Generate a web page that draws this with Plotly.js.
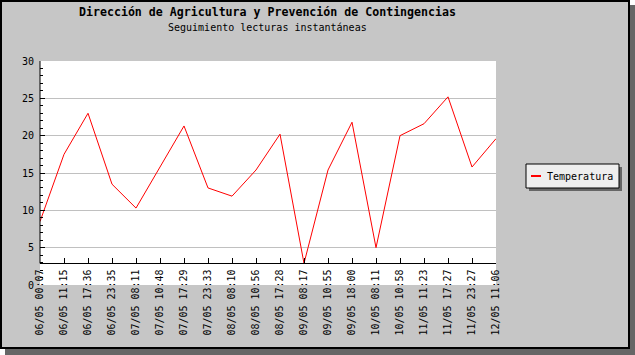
<!DOCTYPE html>
<html>
<head>
<meta charset="utf-8">
<script src="https://cdn.plot.ly/plotly-3.0.1.min.js"></script>
<style>
html,body{margin:0;padding:0;background:#ffffff;}
#chart{width:635px;height:355px;}
</style>
</head>
<body>
<div id="chart"></div>
<script>
const categories = [
  "06/05 00:07","06/05 11:15","06/05 17:36","06/05 23:35",
  "07/05 08:11","07/05 10:48","07/05 17:29","07/05 23:33",
  "08/05 08:10","08/05 10:56","08/05 17:28","09/05 08:17",
  "09/05 10:55","09/05 18:00","10/05 08:11","10/05 10:58",
  "11/05 11:23","11/05 17:27","11/05 23:27","12/05 11:06"
];
const temperatura = [8.5, 17.5, 23.0, 13.5, 10.3, 15.8, 21.3, 13.0, 11.9, 15.4,
                     20.2, 2.9, 15.4, 21.8, 5.0, 20.0, 21.6, 25.2, 15.8, 19.6];
const seriesName = "Temperatura";
const titleText = "Dirección de Agricultura y Prevención de Contingencias";
const subtitleText = "Seguimiento lecturas instantáneas";
const yTicks = [0, 5, 10, 15, 20, 25, 30];

const W = 635, H = 355;
const M = {l: 40, r: 139, t: 61, b: 70, autoexpand: false};
const PW = W - M.l - M.r, PH = H - M.t - M.b;
const px = x => (x - M.l) / PW;
const py = y => (H - M.b - y) / PH;

const yMax = 30;
const yMin = 0;
const minVal = Math.min(...temperatura);
const FONT = "DejaVu Sans Mono";

// legend box (pixel layout)
const LG = {x0: 526, x1: 619, y0: 164, y1: 188};

const shapes = [
  // y axis line from the x axis up to top
  {type:'line', xref:'paper', yref:'y', x0:0, x1:0, y0:minVal, y1:yMax,
   line:{color:'#000', width:1}, layer:'above'},
  // frame border
  {type:'rect', xref:'paper', yref:'paper', x0:px(1), x1:px(629), y0:py(1), y1:py(348),
   line:{color:'#000', width:2}, fillcolor:'rgba(0,0,0,0)', layer:'above'},
  // shadows
  {type:'rect', xref:'paper', yref:'paper', x0:px(630), x1:px(636), y0:py(5), y1:py(356),
   line:{width:0}, fillcolor:'#666666', layer:'above'},
  {type:'rect', xref:'paper', yref:'paper', x0:px(5), x1:px(636), y0:py(349), y1:py(356),
   line:{width:0}, fillcolor:'#666666', layer:'above'},
  // white corners
  {type:'rect', xref:'paper', yref:'paper', x0:px(630), x1:px(636), y0:py(-1), y1:py(5),
   line:{width:0}, fillcolor:'#ffffff', layer:'above'},
  {type:'rect', xref:'paper', yref:'paper', x0:px(-1), x1:px(5), y0:py(349), y1:py(356),
   line:{width:0}, fillcolor:'#ffffff', layer:'above'},
  // legend shadow
  {type:'rect', xref:'paper', yref:'paper', x0:px(LG.x0+3), x1:px(LG.x1+3), y0:py(LG.y1+3), y1:py(LG.y0+3),
   line:{width:0}, fillcolor:'#666666', layer:'above'},
  // legend box
  {type:'rect', xref:'paper', yref:'paper', x0:px(LG.x0), x1:px(LG.x1), y0:py(LG.y1), y1:py(LG.y0),
   line:{color:'#000', width:1}, fillcolor:'#eeeeee', layer:'above'},
  // legend line sample
  {type:'line', xref:'paper', yref:'paper', x0:px(LG.x0+5), x1:px(LG.x0+15), y0:py(176), y1:py(176),
   line:{color:'#ff0000', width:2}, layer:'above'}
];

const trace = {
  x: categories,
  y: temperatura,
  type: 'scatter',
  mode: 'lines',
  name: seriesName,
  line: {color: '#ff0000', width: 1},
  showlegend: false
};

const layout = {
  width: W, height: H,
  margin: M,
  paper_bgcolor: '#c6c6c6',
  plot_bgcolor: '#ffffff',
  font: {family: FONT, size: 10, color: '#000'},
  title: {
    text: titleText,
    font: {family: FONT, size: 11.6, weight: 'bold', color: '#000'},
    x: px(267.5), xref: 'paper', xanchor: 'center',
    y: 1 - 8/H, yref: 'container', yanchor: 'top'
  },
  annotations: [
    {text: subtitleText, xref:'paper', yref:'paper', x: px(267.5), y: py(28),
     xanchor:'center', yanchor:'middle', showarrow:false,
     font:{family: FONT, size: 10, color:'#000'}},
    {text: seriesName, xref:'paper', yref:'paper', x: px(LG.x0+19), y: py(176),
     xanchor:'left', yanchor:'middle', showarrow:false,
     font:{family: FONT, size: 10, color:'#000'}}
  ],
  xaxis: {
    type: 'category',
    range: [0, categories.length - 1],
    anchor: 'free',
    position: (minVal - yMin) / (yMax - yMin),
    showline: true, linecolor: '#000', linewidth: 1,
    ticks: 'inside', ticklen: 5, tickcolor: '#000',
    tickangle: -90,
    showgrid: false, zeroline: false,
    tickfont: {family: FONT, size: 10, color: '#000'},
    ticklabelstandoff: 1
  },
  yaxis: {
    range: [yMin, yMax],
    tickvals: yTicks,
    showline: false,
    ticks: 'inside', ticklen: 5, tickcolor: '#000',
    minor: {dtick: 1, ticks: 'inside', ticklen: 3, tickcolor: '#000', showgrid: false},
    showgrid: true, gridcolor: '#c0c0c0', gridwidth: 1,
    zeroline: false,
    tickfont: {family: FONT, size: 10, color: '#000'},
    ticklabelstandoff: 5
  },
  showlegend: false,
  shapes: shapes
};

Plotly.newPlot('chart', [trace], layout, {displayModeBar: false, staticPlot: true});
</script>
</body>
</html>
